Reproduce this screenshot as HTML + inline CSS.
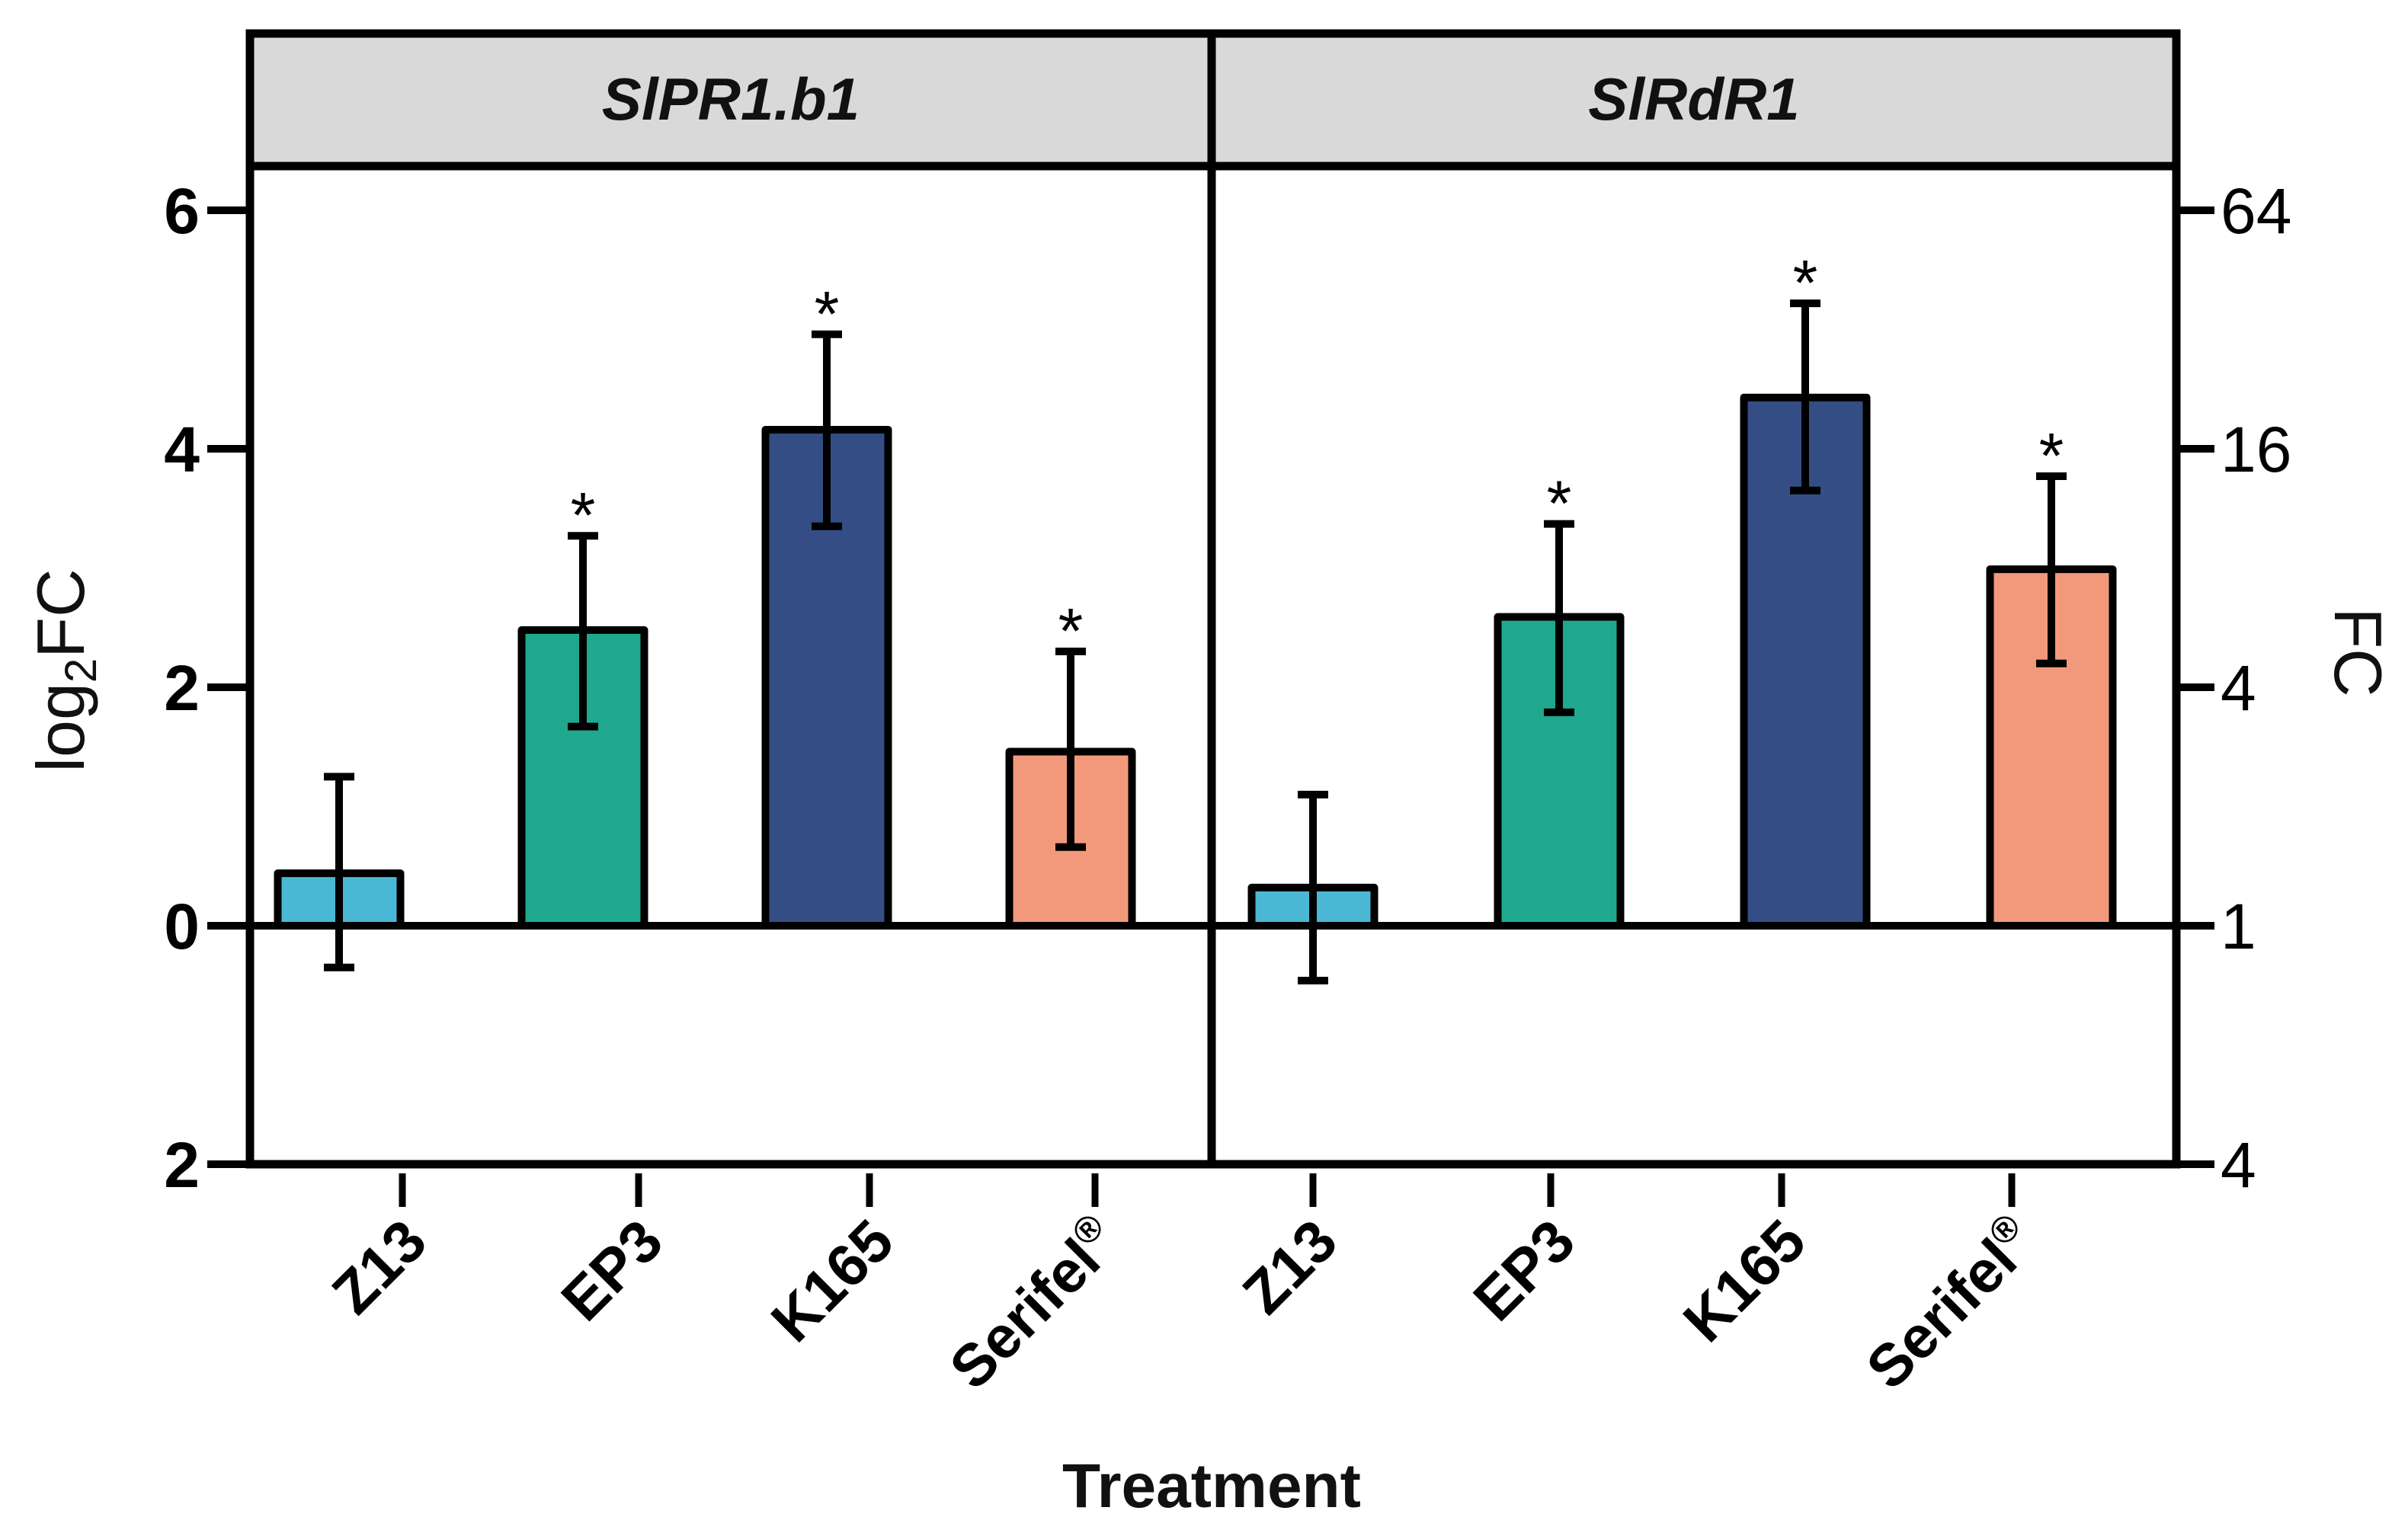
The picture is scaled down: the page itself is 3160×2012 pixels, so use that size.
<!DOCTYPE html>
<html><head><meta charset="utf-8"><style>
html,body{margin:0;padding:0;background:#fff;}
svg{display:block;font-family:"Liberation Sans",sans-serif;}
</style></head><body>
<svg id="chart" width="3160" height="2012" viewBox="0 0 3160 2012" xmlns="http://www.w3.org/2000/svg">
<g id="layer"></g>
</svg>
<script>
const categories = ["Z13","EP3","K165","Serifel®"];
const panels = ["SlPR1.b1","SlRdR1"];
const meansP1 = [0.44, 2.48, 4.16, 1.46];
const upperP1 = [1.25, 3.27, 4.96, 2.30];
const lowerP1 = [-0.35, 1.67, 3.35, 0.66];
const meansP2 = [0.32, 2.59, 4.43, 2.99];
const upperP2 = [1.10, 3.37, 5.22, 3.77];
const lowerP2 = [-0.46, 1.79, 3.65, 2.20];
const signifP1 = [false, true, true, true];
const signifP2 = [false, true, true, true];
const leftTicks = [6, 4, 2, 0, -2];
const leftTickLabels = ["6","4","2","0","2"];
const rightTickLabels = ["64","16","4","1","4"];

const NS = "http://www.w3.org/2000/svg";
const layer = document.getElementById("layer");
const colors = ["#4ab8d4","#20a88f","#344d84","#f2997c"];
const X0 = 328, XD = 1590, X1 = 2856, TOP = 44, STRIP = 218, BOT = 1528;
function y(v){ return 1215 - v*156.5; }
const panelCfg = [
  {x0:X0, first:445, step:320, ticks:[528,838,1141,1437], means:meansP1, up:upperP1, lo:lowerP1, sig:signifP1},
  {x0:XD, first:1723, step:323, ticks:[1723,2035,2338,2640], means:meansP2, up:upperP2, lo:lowerP2, sig:signifP2}
];
function el(tag, attrs, parent){
  const e = document.createElementNS(NS, tag);
  for (const k in attrs) e.setAttribute(k, attrs[k]);
  (parent||layer).appendChild(e);
  return e;
}
function xc(p,i){ return panelCfg[p].first + i*panelCfg[p].step; }

el("rect",{x:X0,y:TOP,width:X1-X0,height:STRIP-TOP,fill:"#d9d9d9"});
panels.forEach((name,p)=>{
  const cx = p===0 ? (X0+XD)/2 : (XD+X1)/2;
  const t = el("text",{x:cx,y:157,"text-anchor":"middle","font-size":78,"font-weight":"bold","font-style":"italic",fill:"#111"});
  t.textContent = name;
  
  
});

panelCfg.forEach((cfg,p)=>{
  cfg.means.forEach((m,i)=>{
    const cx = xc(p,i), w = 161;
    const r = el("rect",{x:cx-w/2,y:Math.min(y(m),y(0)),width:w,height:Math.abs(y(0)-y(m)),fill:colors[i],stroke:"#000","stroke-width":10,"stroke-linejoin":"round"});
    
    
  });
});
const zl = el("line",{x1:X0,x2:X1,y1:y(0),y2:y(0),stroke:"#000","stroke-width":10});


panelCfg.forEach((cfg,p)=>{
  cfg.means.forEach((m,i)=>{
    const cx = xc(p,i);
    const g = el("g",{stroke:"#000","stroke-width":10});
    
    
    el("line",{x1:cx,x2:cx,y1:y(cfg.up[i]),y2:y(cfg.lo[i])},g);
    el("line",{x1:cx-20,x2:cx+20,y1:y(cfg.up[i]),y2:y(cfg.up[i])},g);
    el("line",{x1:cx-20,x2:cx+20,y1:y(cfg.lo[i]),y2:y(cfg.lo[i])},g);
    if (cfg.sig[i]) {
      const s = el("text",{x:cx,y:y(cfg.up[i])+2,"text-anchor":"middle","font-size":84,fill:"#000"});
      s.textContent = "*";
      
      
    }
  });
});

const fr = el("g",{stroke:"#000","stroke-width":11,fill:"none"});


el("rect",{x:X0,y:TOP,width:X1-X0,height:BOT-TOP},fr);
el("line",{x1:X0,x2:X1,y1:STRIP,y2:STRIP},fr);
el("line",{x1:XD,x2:XD,y1:TOP,y2:BOT},fr);

leftTicks.forEach((v,k)=>{
  el("line",{x1:272,x2:X0,y1:y(v),y2:y(v),stroke:"#000","stroke-width":10});
  const t = el("text",{x:262,y:y(v)+30,"text-anchor":"end","font-size":84,"font-weight":"bold",fill:"#000"});
  t.textContent = leftTickLabels[k];
  
  
  el("line",{x1:X1,x2:2906,y1:y(v),y2:y(v),stroke:"#000","stroke-width":10});
  const r = el("text",{x:2914,y:y(v)+30,"text-anchor":"start","font-size":84,fill:"#000"});
  r.textContent = rightTickLabels[k];
  
  
});

panelCfg.forEach((cfg,p)=>{
  cfg.ticks.forEach((tx,i)=>{
    el("line",{x1:tx,x2:tx,y1:1540,y2:1584,stroke:"#000","stroke-width":9});
    const ax = tx+36, ay = 1634;
    const t = el("text",{x:ax,y:ay,"text-anchor":"end","font-size":78,"font-weight":"bold",fill:"#000",transform:`rotate(-45 ${ax} ${ay})`});
    if (categories[i].endsWith("®")) {
      t.textContent = categories[i].slice(0,-1);
      const sp = el("tspan",{"font-size":48,dy:-30},t);
      sp.textContent = "®";
    } else t.textContent = categories[i];
    
    
  });
});

const xt = el("text",{x:1590,y:1978,"text-anchor":"middle","font-size":82,"font-weight":"bold",fill:"#111"});
xt.textContent = "Treatment";


const yt = el("text",{x:0,y:0,"text-anchor":"middle","font-size":88,fill:"#111",transform:"translate(110 880) rotate(-90)"});
yt.textContent = "log";
const sub = el("tspan",{"font-size":58,dy:16},yt); sub.textContent = "2";
const fc = el("tspan",{dy:-16},yt); fc.textContent = "FC";


const yr = el("text",{x:0,y:0,"text-anchor":"middle","font-size":88,fill:"#111",transform:"translate(3064 856) rotate(90)"});
yr.textContent = "FC";


</script>
</body></html>
